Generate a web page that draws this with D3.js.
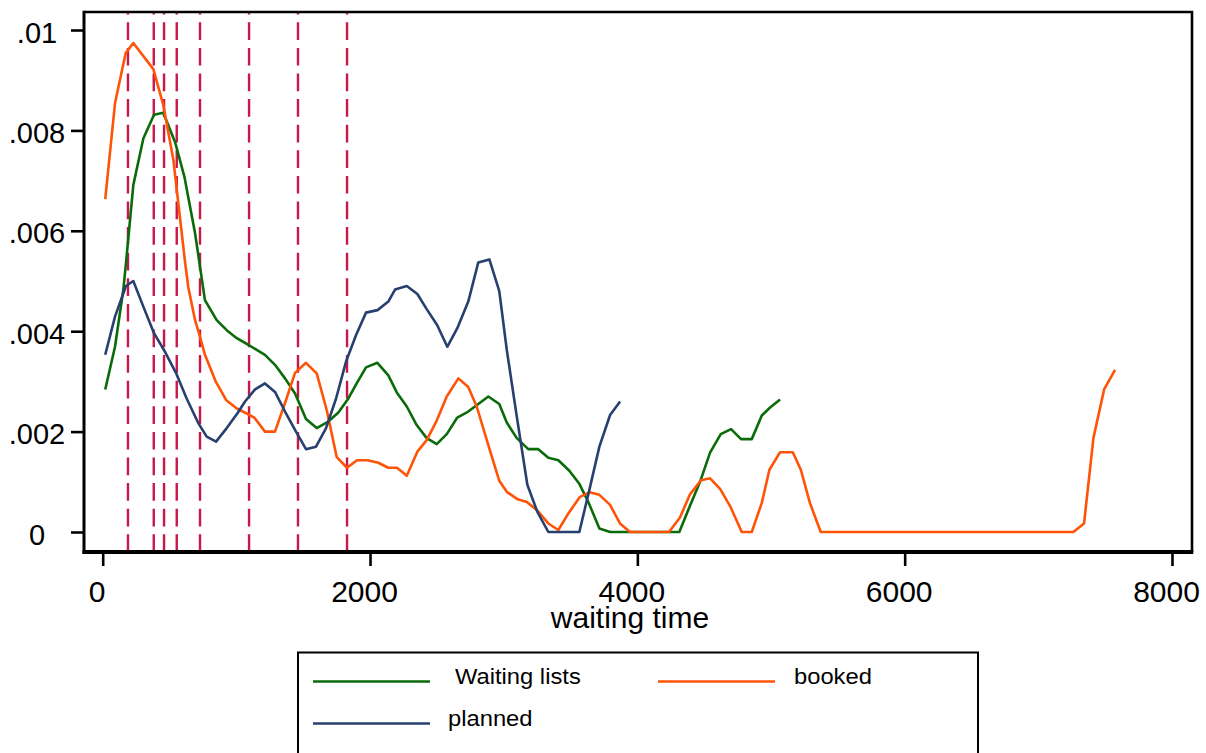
<!DOCTYPE html>
<html><head><meta charset="utf-8">
<script src="https://cdn.jsdelivr.net/npm/d3@7"></script>
<style>
html,body{margin:0;padding:0;background:#fff;}
svg{display:block;font-family:"Liberation Sans",Arial,sans-serif;}
</style></head>
<body>
<svg id="c" width="1206" height="753"></svg>
<script>
// ---- data ----
const xTicks = [0, 2000, 4000, 6000, 8000];
const yTicks = [0, 0.002, 0.004, 0.006, 0.008, 0.01];
const yTickLabels = ["0", ".002", ".004", ".006", ".008", ".01"];
const xTitle = "waiting time";
const seriesNames = ["Waiting lists", "booked", "planned"];
const seriesColors = ["#0a6b0a", "#ff5308", "#27406f"];
const quantileLines = [189, 382, 459, 554, 728, 1095, 1461, 1828];

const waitingX = [19,92,154,174,229,304,384,453,541,611,691,765,853,928,1003,1089,1214,1289,1364,1439,1521,1601,1688,1763,1838,1900,1970,2055,2137,2200,2275,2349,2424,2499,2574,2653,2735,2810,2885,2967,3023,3098,3184,3259,3334,3409,3491,3566,3633,3716,3796,4314,4387,4469,4544,4624,4701,4776,4856,4931,4993,5068];
const waitingY = [0.00284,0.00369,0.00482,0.00535,0.00691,0.00784,0.00831,0.00835,0.00777,0.00708,0.00595,0.00462,0.00422,0.00402,0.00386,0.00373,0.00353,0.00333,0.00306,0.00276,0.00225,0.00207,0.00220,0.00238,0.00266,0.00296,0.00328,0.00337,0.00312,0.00278,0.00250,0.00213,0.00187,0.00175,0.00195,0.00228,0.00240,0.00255,0.00270,0.00255,0.00218,0.00187,0.00165,0.00165,0.00148,0.00143,0.00122,0.00096,0.00060,0.00007,0,0,0.00048,0.00100,0.00158,0.00195,0.00205,0.00185,0.00185,0.00232,0.00248,0.00264];

const bookedX = [19,92,172,229,379,453,529,563,616,640,691,728,765,847,923,1003,1077,1134,1214,1289,1364,1439,1521,1601,1676,1751,1828,1903,1981,2062,2137,2202,2275,2354,2424,2499,2574,2661,2735,2798,2885,2967,3023,3105,3172,3247,3334,3409,3484,3571,3641,3716,3796,3870,3945,4237,4319,4394,4476,4544,4619,4697,4781,4856,4931,4988,5068,5163,5223,5292,5372,7262,7342,7412,7492,7574];
const bookedY = [0.00663,0.00854,0.00954,0.00974,0.00922,0.00851,0.00741,0.00661,0.00538,0.00488,0.00422,0.00389,0.00353,0.00299,0.00263,0.00246,0.00236,0.00228,0.00200,0.00200,0.00257,0.00317,0.00337,0.00316,0.00243,0.00149,0.00128,0.00143,0.00143,0.00138,0.00128,0.00128,0.00112,0.00160,0.00183,0.00222,0.00270,0.00306,0.00289,0.00250,0.00173,0.00102,0.00080,0.00065,0.00060,0.00044,0.00017,0.00004,0.00037,0.00070,0.00079,0.00074,0.00054,0.00017,0,0,0.00029,0.00075,0.00103,0.00107,0.00086,0.00050,0,0,0.00058,0.00124,0.00159,0.00159,0.00124,0.00057,0,0,0.00017,0.00187,0.00284,0.00323];

const plannedX = [19,92,174,229,304,384,466,548,628,715,778,848,928,1007,1065,1140,1214,1289,1364,1446,1521,1596,1671,1746,1820,1895,1970,2056,2137,2187,2275,2354,2424,2503,2578,2653,2735,2810,2893,2967,3023,3098,3177,3252,3334,3566,3641,3716,3796,3871];
const plannedY = [0.00353,0.00429,0.00490,0.00500,0.00449,0.00396,0.00359,0.00317,0.00266,0.00217,0.00190,0.00180,0.00207,0.00236,0.00260,0.00284,0.00296,0.00279,0.00240,0.00200,0.00165,0.00170,0.00207,0.00266,0.00339,0.00392,0.00437,0.00442,0.00459,0.00483,0.00490,0.00474,0.00444,0.00412,0.00369,0.00406,0.00459,0.00537,0.00543,0.00480,0.00363,0.00230,0.00094,0.00040,0,0,0.00084,0.00170,0.00233,0.00260];

const seriesX = [waitingX, bookedX, plannedX];
const seriesY = [waitingY, bookedY, plannedY];

// ---- layout ----
const frame = {left: 84, top: 12, right: 1192, bottom: 552};
const x = d3.scaleLinear().domain([0, 8000]).range([102.7, 1172]);
const y = d3.scaleLinear().domain([0, 0.01]).range([532, 30]);

const svg = d3.select("#c");

// quantile dashed lines (behind curves)
svg.append("g").selectAll("line").data(quantileLines).join("line")
  .attr("x1", d => x(d)).attr("x2", d => x(d))
  .attr("y1", frame.bottom).attr("y2", frame.top)
  .attr("stroke", "#c8184a").attr("stroke-width", 2.4)
  .attr("stroke-dasharray", "17.7,7.9");

// series
const line = d3.line().x(d => x(d[0])).y(d => y(d[1]));
svg.append("g").selectAll("path").data(seriesNames).join("path")
  .attr("d", (n, i) => line(d3.zip(seriesX[i], seriesY[i])))
  .attr("fill", "none")
  .attr("stroke", (n, i) => seriesColors[i])
  .attr("stroke-width", 2.6)
  .attr("stroke-linejoin", "round");

// frame
svg.append("path")
  .attr("d", `M${frame.left},${frame.top}H${frame.right}V${frame.bottom}`)
  .attr("fill", "none").attr("stroke", "#000").attr("stroke-width", 2.6);
svg.append("line")
  .attr("x1", frame.left).attr("x2", frame.left)
  .attr("y1", frame.top - 1.3).attr("y2", frame.bottom + 2)
  .attr("stroke", "#000").attr("stroke-width", 3);
svg.append("line")
  .attr("x1", frame.left - 1.5).attr("x2", frame.right + 1.3)
  .attr("y1", frame.bottom).attr("y2", frame.bottom)
  .attr("stroke", "#000").attr("stroke-width", 4);

// y axis
const yAxis = d3.axisLeft(y).tickValues(yTicks)
  .tickFormat((d, i) => yTickLabels[i]).tickSize(13).tickPadding(0);
const gy = svg.append("g").attr("transform", `translate(${frame.left},0)`).call(yAxis);
gy.select(".domain").remove();
gy.selectAll(".tick line").attr("stroke", "#000").attr("stroke-width", 2.6);
gy.selectAll(".tick text")
  .attr("x", 37 - frame.left).attr("dy", "12px")
  .attr("text-anchor", "middle")
  .attr("font-size", "29px").attr("fill", "#000")
  .attr("font-family", "Liberation Sans, Arial, sans-serif");

// x axis
const xAxis = d3.axisBottom(x).tickValues(xTicks)
  .tickFormat(d3.format("d")).tickSize(13).tickPadding(0);
const gx = svg.append("g").attr("transform", `translate(0,${frame.bottom + 1})`).call(xAxis);
gx.select(".domain").remove();
gx.selectAll(".tick line").attr("stroke", "#000").attr("stroke-width", 2.6);
gx.selectAll(".tick text")
  .attr("x", -6).attr("y", 48.5).attr("dy", 0)
  .attr("font-size", "30px").attr("fill", "#000")
  .attr("font-family", "Liberation Sans, Arial, sans-serif");

svg.append("text")
  .attr("x", 630).attr("y", 628)
  .attr("text-anchor", "middle").attr("font-size", "30px").attr("fill", "#000")
  .text(xTitle);

// legend
const lg = svg.append("g");
lg.append("rect").attr("x", 298).attr("y", 652.5).attr("width", 680).attr("height", 120)
  .attr("fill", "#fff").attr("stroke", "#000").attr("stroke-width", 2);
const legendPos = [[313, 681.5], [658, 681.5], [313, 723.5]];
const legendTextX = [455, 794, 448];
seriesNames.forEach((n, i) => {
  const [lx, ly] = legendPos[i];
  lg.append("line").attr("x1", lx).attr("x2", lx + 117).attr("y1", ly).attr("y2", ly)
    .attr("stroke", seriesColors[i]).attr("stroke-width", 2.6);
  lg.append("text").attr("transform", `translate(${legendTextX[i]},${ly + 2}) scale(1.08,1)`)
    .attr("font-size", "22px").attr("fill", "#000").text(n);
});
</script>
</body></html>
